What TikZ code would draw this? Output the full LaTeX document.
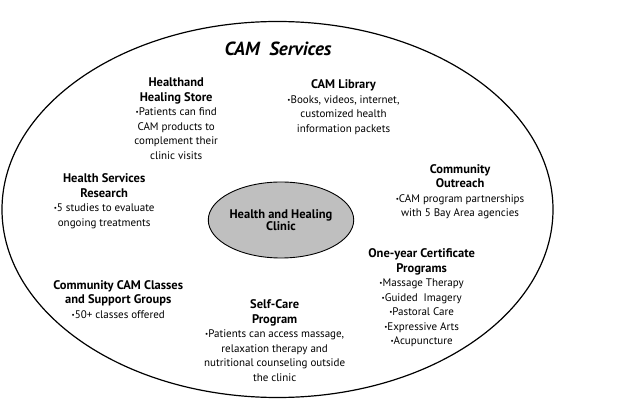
\documentclass[tikz,border=0pt]{standalone}
\usepackage{fontspec}
\setmainfont{PT Sans}
\usetikzlibrary{shapes.geometric}

\newcommand\bul{\raisebox{.2ex}{\scriptsize\textbullet}}
\newcommand\hd[1]{{\fontsize{12.5}{14.5}\selectfont\bfseries #1}}

\tikzset{
  servicering/.style={ellipse,draw,line width=1.2pt,minimum width=551pt,minimum height=376pt,inner sep=0pt},
  clinic/.style={ellipse,draw,line width=0.9pt,fill=black!25,minimum width=126pt,minimum height=76pt,inner sep=0pt,align=center},
  service/.style={align=center,inner sep=0pt,font=\fontsize{11}{14.5}\selectfont},
  headline/.style={inner sep=0pt,font=\fontsize{19}{22}\selectfont\bfseries\itshape}
}

\begin{document}
\begin{tikzpicture}[x=1pt,y=1pt,sibling distance=0pt,edge from parent/.style={draw=none}]
  \useasboundingbox (0,0) rectangle (640,-403);
  \node[servicering] (cam) at (277.5,-209.5) {};
  \node[clinic] (hhclinic) at (281,-220) {\hd{Health and Healing}\\\hd{Clinic}}
  child [grow=91,level distance=171pt]{node[headline] (title) {CAM\ \ Services}}
  child [grow=136.7,level distance=145.7pt]{node[service] (store) {\hd{Healthand}\\\hd{Healing Store}\\\bul Patients can find\\CAM products to\\complement their\\clinic visits}}
  child [grow=61.7,level distance=128.9pt]{node[service] (library) {\hd{CAM Library}\\\bul Books, videos, internet,\\customized health\\information packets}}
  child [grow=174.5,level distance=177.8pt]{node[service] (research) {\hd{Health Services}\\\hd{Research}\\\bul 5 studies to evaluate\\ongoing treatments}}
  child [grow=9.2,level distance=181.3pt]{node[service] (outreach) {\hd{Community}\\\hd{Outreach}\\\bul CAM program partnerships\\with 5 Bay Area agencies}}
  child [grow=-29.4,level distance=160.8pt]{node[service] (certificate) {\hd{One-year Certificate}\\\hd{Programs}\\\bul Massage Therapy\\\bul Guided\ \ Imagery\\\bul Pastoral Care\\\bul Expressive Arts\\\bul Acupuncture}}
  child [grow=-154.1,level distance=181.1pt]{node[service] (classes) {\hd{Community CAM Classes}\\\hd{and Support Groups}\\\bul 50+ classes offered}}
  child [grow=-93.3,level distance=120.7pt]{node[service] (selfcare) {\hd{Self-Care}\\\hd{Program}\\\bul Patients can access massage,\\relaxation therapy and\\nutritional counseling outside\\the clinic}};

\end{tikzpicture}
\end{document}
